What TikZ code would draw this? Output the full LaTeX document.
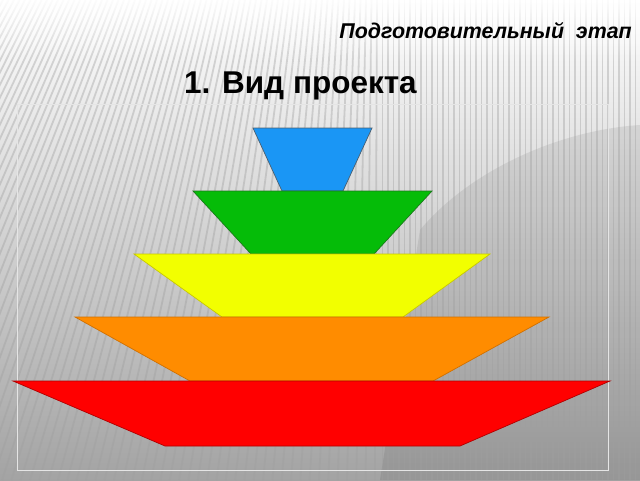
\documentclass[tikz,border=0pt]{standalone}
\usepackage{fontspec}
\setmainfont{Liberation Sans}
\usetikzlibrary{fadings}
\tikzfading[name=topfade, top color=transparent!0, bottom color=transparent!100]
\definecolor{cblue}{HTML}{1A96F5}
\definecolor{cbluee}{HTML}{4A5F70}
\definecolor{cgreen}{HTML}{05BC08}
\definecolor{cgreene}{HTML}{1A7A1A}
\definecolor{cyellow}{HTML}{F2FF00}
\definecolor{cyellowe}{HTML}{C8C800}
\definecolor{corange}{HTML}{FF8C00}
\definecolor{corangee}{HTML}{D07000}
\definecolor{cred}{HTML}{FF0000}
\definecolor{crede}{HTML}{B00000}
\tikzset{
  stripe/.style={gray!75, line width=1.8pt, opacity=0.4},
  tier/.style={line width=0.7pt, line join=miter},
  frame/.style={white!80!gray, line width=0.6pt},
  heading/.style={font=\bfseries\fontsize{31.5}{36}\selectfont, inner sep=0pt},
  stage/.style={font=\bfseries\itshape\fontsize{21.4}{25}\selectfont, inner sep=0pt}
}
\begin{document}
\begin{tikzpicture}[x=1pt,y=-1pt]
\useasboundingbox (0,0) rectangle (640,480);
% background
\shade[top color=white, middle color=white!90!gray, bottom color=gray!72] (0,0) rectangle (640,480);
\fill[black, opacity=0.08] (380,480) -- (420,230) .. controls (470,170) and (560,130) .. (640,125) -- (640,480) -- cycle;
\foreach \x in {-140,-134.5,...,700} {
  \pgfmathsetmacro{\s}{0.55*max(0,1-\x/380)}
  \draw[stripe] (\x,0) -- ({\x-\s*480},480);
}
\fill[white, path fading=topfade] (0,-5) rectangle (640,60);
\draw[frame] (17,104) rectangle (608,470);
% texts
\node[stage, anchor=base east] (stage) at (632,38) {Подготовительный\ \ этап};
\node[heading, anchor=base west] (title) at (184,93) {1. Вид проекта};
% tiers
\draw[tier, fill=cblue, draw=cbluee] (253,128) -- (372,128) -- (343,191) -- (282,191) -- cycle;
\draw[tier, fill=cgreen, draw=cgreene] (193,191) -- (432,191) -- (374,254) -- (251,254) -- cycle;
\draw[tier, fill=cyellow, draw=cyellowe] (134,254) -- (490,254) -- (403,317) -- (222,317) -- cycle;
\draw[tier, fill=corange, draw=corangee] (75,317) -- (549,317) -- (433,381) -- (190,381) -- cycle;
\draw[tier, fill=cred, draw=crede] (13,381) -- (610,381) -- (460,446) -- (165,446) -- cycle;
\end{tikzpicture}
\end{document}
